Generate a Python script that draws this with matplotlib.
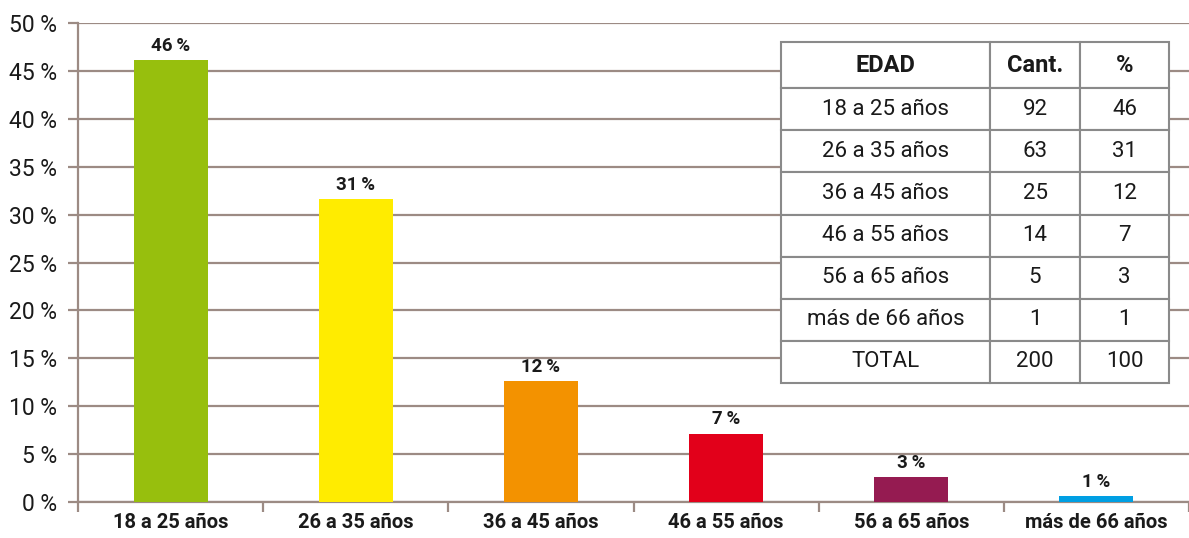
import matplotlib
matplotlib.use("Agg")
import matplotlib.pyplot as plt
import numpy as np

plt.rcParams['font.family'] = ['Roboto', 'DejaVu Sans']

categories = ["18 a 25 años", "26 a 35 años", "36 a 45 años", "46 a 55 años", "56 a 65 años", "más de 66 años"]
bar_values = [46.1, 31.6, 12.6, 7.1, 2.6, 0.6]
label_pct = [46, 31, 12, 7, 3, 1]
counts = [92, 63, 25, 14, 5, 1]
table_pct = [46, 31, 12, 7, 3, 1]
total_count = 200
total_pct = 100
colors = ["#97bf0d", "#ffec00", "#f39200", "#e2001a", "#951b51", "#009fe3"]
yticks = [0, 5, 10, 15, 20, 25, 30, 35, 40, 45, 50]

W, H = 1189, 538
fig = plt.figure(figsize=(W / 100, H / 100), dpi=100)
ax = fig.add_axes([78 / W, (H - 502) / H, (W - 78) / W, (502 - 23) / H])

grid_c = "#9c8b84"
x = np.arange(len(categories))
ax.bar(x, bar_values, width=0.4, color=colors, zorder=3)
for xi, v, p in zip(x, bar_values, label_pct):
    ax.annotate(f"{p}\u2009%", (xi, v), xytext=(0, 4), textcoords="offset points",
                ha="center", va="bottom", fontsize=13.5, fontweight="bold", color="#1a1a1a", zorder=4)

ax.set_xlim(-0.5, len(categories) - 0.5)
ax.set_ylim(0, 50)
ax.set_yticks(yticks)
ax.set_yticklabels([f"{t} %" for t in yticks], fontsize=16.5, color="#1a1a1a")
ax.yaxis.grid(True, color=grid_c, linewidth=1.6, zorder=0)
ax.set_axisbelow(True)
ax.tick_params(axis="y", length=7, width=1.6, color=grid_c, pad=8)

ax.set_xticks(x)
ax.set_xticklabels(categories, fontsize=14.5, fontweight="bold", color="#1a1a1a")
ax.tick_params(axis="x", length=0, pad=8)
ax.set_xticks(np.arange(len(categories) + 1) - 0.5, minor=True)
ax.tick_params(axis="x", which="minor", length=7, width=1.6, color=grid_c)

for s in ["top", "right"]:
    ax.spines[s].set_visible(False)
ax.spines["left"].set_color(grid_c)
ax.spines["left"].set_linewidth(1.6)
ax.spines["bottom"].set_color(grid_c)
ax.spines["bottom"].set_linewidth(1.6)

# table
rows = [["EDAD", "Cant.", "%"]]
for c, n, p in zip(categories, counts, table_pct):
    rows.append([c, str(n), str(p)])
rows.append(["TOTAL", str(total_count), str(total_pct)])

x0 = (781 - 78) / 1111
x1 = (1169 - 78) / 1111
y_top = (502 - 42) / 479
y_bot = (502 - 383) / 479
tbl = ax.table(cellText=rows, cellLoc="center", bbox=[x0, y_bot, x1 - x0, y_top - y_bot], zorder=5)
tbl.auto_set_font_size(False)
colw = [209, 90, 89]
tot_w = sum(colw)
n_rows = len(rows)
heights = [46] + [42] * (n_rows - 1)
tot_h = sum(heights)
for (r, c), cell in tbl.get_celld().items():
    cell.set_width((x1 - x0) * colw[c] / tot_w)
    cell.set_height((y_top - y_bot) * heights[r] / tot_h)
    cell.set_edgecolor("#8a8a8a")
    cell.set_linewidth(1.5)
    cell.set_facecolor("white")
    txt = cell.get_text()
    txt.set_color("#1a1a1a")
    if r == 0:
        txt.set_fontweight("bold")
        txt.set_fontsize(17)
    else:
        txt.set_fontsize(16)

fig.savefig("out.png", dpi=100)
